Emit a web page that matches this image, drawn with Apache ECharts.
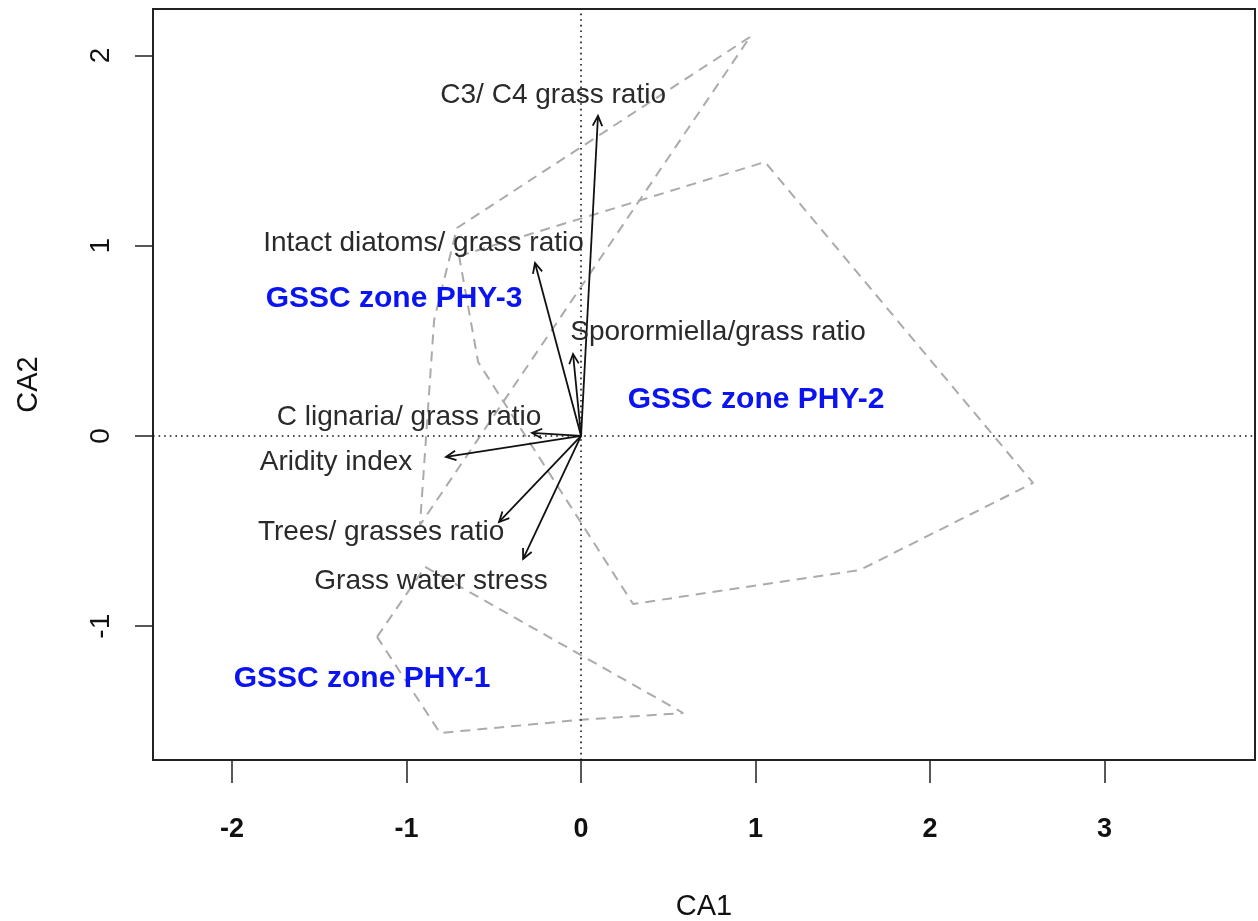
<!DOCTYPE html>
<html>
<head>
<meta charset="utf-8">
<script src="https://cdn.jsdelivr.net/npm/echarts@6/dist/echarts.min.js"></script>
<style>
  html, body { margin: 0; padding: 0; background: #fff; }
  #chart { width: 1258px; height: 921px; }
</style>
</head>
<body>
<div id="chart"></div>
<script>
// CA biplot: environmental vectors (arrows) and convex hulls of the three GSSC phytolith zones.

const xTicks = [-2, -1, 0, 1, 2, 3];
const yTicks = [-1, 0, 1, 2];

// Fitted vectors (CA1, CA2 scores of the arrow tips)
const vectorNames = [
  'C3/ C4 grass ratio',
  'Intact diatoms/ grass ratio',
  'Sporormiella/grass ratio',
  'C lignaria/ grass ratio',
  'Aridity index',
  'Trees/ grasses ratio',
  'Grass water stress'
];
const vectorCA1 = [0.097, -0.264, -0.046, -0.281, -0.774, -0.470, -0.332];
const vectorCA2 = [1.682, 0.909, 0.431, 0.016, -0.110, -0.452, -0.646];

// Where each vector name is written
const vectorLabelCA1 = [-0.160, -0.903, 0.785, -0.986, -1.404, -1.146, -0.860];
const vectorLabelCA2 = [1.792, 1.014, 0.546, 0.100, -0.137, -0.504, -0.762];

// Zone hulls (outline vertices in CA1, CA2)
const hullPHY1 = [[-1.169, -1.056], [-0.894, -0.688], [0.585, -1.456], [-0.006, -1.492], [-0.808, -1.561]];
const hullPHY2 = [[-0.699, 0.946], [1.054, 1.440], [2.590, -0.247], [1.599, -0.704], [0.298, -0.883], [-0.590, 0.389]];
const hullPHY3 = [[0.968, 2.097], [-0.711, 1.093], [-0.842, 0.610], [-0.923, -0.468]];

// Zone names
const zoneNames = ['GSSC zone PHY-3', 'GSSC zone PHY-2', 'GSSC zone PHY-1'];
const zoneCA1 = [-1.072, 1.003, -1.255];
const zoneCA2 = [0.720, 0.189, -1.277];

const textFont = "'Liberation Sans', Arial, sans-serif";

function closed(pts) { return pts.concat([pts[0]]); }

function hullSeries(pts) {
  return {
    type: 'line',
    data: closed(pts),
    showSymbol: false,
    symbol: 'none',
    silent: true,
    z: 2,
    lineStyle: { color: '#ababab', width: 2, type: [10, 7] }
  };
}

const chart = echarts.init(document.getElementById('chart'), null, { renderer: 'canvas' });

chart.setOption({
  animation: false,
  backgroundColor: '#ffffff',
  grid: {
    left: 153, right: 3, top: 9, bottom: 161,
    outerBoundsMode: 'none',
    containLabel: false,
    show: true, borderColor: '#222', borderWidth: 2, backgroundColor: 'transparent'
  },
  xAxis: {
    type: 'value',
    position: 'bottom',
    min: -2.453, max: 3.862,
    name: 'CA1',
    nameLocation: 'middle',
    nameGap: 132,
    nameTextStyle: { fontFamily: textFont, fontSize: 29, color: '#111' },
    axisLine: { show: false, onZero: false },
    splitLine: { show: false },
    axisTick: { show: true, inside: false, length: 23, customValues: xTicks,
                lineStyle: { color: '#222', width: 1.5 } },
    axisLabel: { show: true, customValues: xTicks, margin: 56,
                 fontFamily: textFont, fontWeight: 'bold', fontSize: 27, color: '#111' }
  },
  yAxis: {
    type: 'value',
    position: 'left',
    min: -1.703, max: 2.244,
    name: 'CA2',
    nameLocation: 'middle',
    nameGap: 110,
    nameRotate: 90,
    nameTextStyle: { fontFamily: textFont, fontSize: 29, color: '#111' },
    axisLine: { show: false, onZero: false },
    splitLine: { show: false },
    axisTick: { show: true, inside: false, length: 18, customValues: yTicks,
                lineStyle: { color: '#222', width: 1.5 } },
    axisLabel: { show: true, customValues: yTicks, margin: 38, rotate: 90,
                 fontFamily: textFont, fontSize: 28, color: '#111' }
  },
  series: [
    hullSeries(hullPHY1),
    hullSeries(hullPHY2),
    hullSeries(hullPHY3),
    {
      // dotted reference lines through the origin
      type: 'line',
      data: [],
      silent: true,
      markLine: {
        silent: true,
        symbol: 'none',
        label: { show: false },
        lineStyle: { color: '#111', width: 1.6, type: [1.6, 4] },
        data: [{ xAxis: 0 }, { yAxis: 0 }]
      }
    },
    {
      type: 'custom',
      silent: true,
      z: 5,
      encode: { x: 0, y: 1 },
      data: vectorCA1.map((v, i) => [v, vectorCA2[i]]),
      renderItem: function (params, api) {
        const o = api.coord([0, 0]);
        const t = api.coord([api.value(0), api.value(1)]);
        const ang = Math.atan2(t[1] - o[1], t[0] - o[0]);
        const L = 11, a = Math.PI / 7;
        const h1 = [t[0] - L * Math.cos(ang - a), t[1] - L * Math.sin(ang - a)];
        const h2 = [t[0] - L * Math.cos(ang + a), t[1] - L * Math.sin(ang + a)];
        return {
          type: 'group',
          children: [
            { type: 'line', shape: { x1: o[0], y1: o[1], x2: t[0], y2: t[1] },
              style: { stroke: '#111', lineWidth: 1.8 } },
            { type: 'polyline', shape: { points: [h1, t, h2] },
              style: { stroke: '#111', lineWidth: 1.8, fill: null } }
          ]
        };
      }
    },
    {
      type: 'custom',
      silent: true,
      z: 6,
      encode: { x: 0, y: 1 },
      data: vectorLabelCA1.map((v, i) => [v, vectorLabelCA2[i]]),
      renderItem: function (params, api) {
        const p = api.coord([api.value(0), api.value(1)]);
        return {
          type: 'text', x: p[0], y: p[1],
          style: { text: vectorNames[params.dataIndex], fontFamily: textFont, fontSize: 28,
                   fill: '#2a2a2a', align: 'center', verticalAlign: 'middle' }
        };
      }
    },
    {
      type: 'custom',
      silent: true,
      z: 6,
      encode: { x: 0, y: 1 },
      data: zoneCA1.map((v, i) => [v, zoneCA2[i]]),
      renderItem: function (params, api) {
        const p = api.coord([api.value(0), api.value(1)]);
        return {
          type: 'text', x: p[0], y: p[1],
          style: { text: zoneNames[params.dataIndex], fontFamily: textFont, fontSize: 30,
                   fontWeight: 'bold', fill: '#0a14f0', align: 'center', verticalAlign: 'middle' }
        };
      }
    }
  ]
});
</script>
</body>
</html>
